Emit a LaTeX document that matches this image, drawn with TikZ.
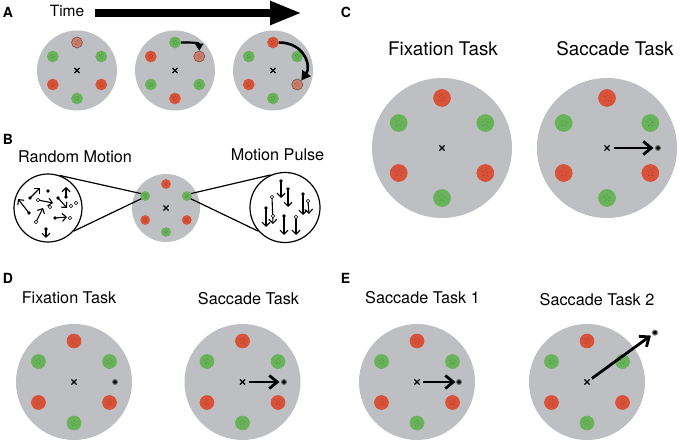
\documentclass[tikz,border=0pt]{standalone}
\usepackage{fontspec}
\setmainfont{TeX Gyre Heros}
\usetikzlibrary{arrows.meta,shapes.misc}

\definecolor{screengray}{RGB}{190,191,195}
\definecolor{dotgreen}{RGB}{104,178,90}
\definecolor{dotred}{RGB}{216,82,58}
\definecolor{dotlit}{RGB}{201,128,106}
\definecolor{litrim}{RGB}{120,80,70}
\definecolor{ringgray}{RGB}{115,115,115}

% one stimulus screen: name, x, y, size, ring radius, dot size, dot list
\newcommand{\stimdisplay}[7]{%
  \node[screen, minimum size=#4pt] (#1) at (#2,#3) {};
  \foreach \ang/\col/\rim [count=\i] in #7 {
    \node[stimdot, fill=\col, draw=\rim, minimum size=#6pt] (#1d\i) at ([shift={(\ang:#5)}]#1) {};
    \foreach \sx/\sy in {-2.5/-1.5, 0.5/-3, 2.5/-0.5, -0.5/1, 1.5/2.5, -2/2.5}
      \fill[speck] ([shift={({\sx*#6/17},{\sy*#6/17})}]#1d\i) circle [radius=0.45pt];
  }
  \node[fixcross] (#1x) at (#1) {};
}

\begin{document}
\begin{tikzpicture}[x=1pt, y=-1pt,
    screen/.style={circle, fill=screengray, inner sep=0pt},
    stimdot/.style={circle, inner sep=0pt, line width=0.6pt},
    speck/.style={black, opacity=0.3},
    fixcross/.style={cross out, draw, line width=1.1pt, minimum size=4pt, inner sep=0pt},
    target/.style={circle, fill=black, draw=ringgray, line width=1.1pt, minimum size=5pt, inner sep=0pt},
    saccade/.style={line width=2.8pt, -{Straight Barb[length=8pt,width=13pt]}},
    turn/.style={line width=2.2pt, -{Triangle[length=7pt,width=8pt]}},
    lens/.style={circle, draw, line width=1.2pt, fill=white, inner sep=0pt},
    mv/.style={line width=1.1pt, -{Straight Barb[length=4pt,width=8pt]}},
    panel/.style={font=\bfseries\fontsize{14}{16}\selectfont},
    title/.style={font=\fontsize{16.2}{18}\selectfont},
    bigtitle/.style={font=\fontsize{18.8}{21}\selectfont}]

    \useasboundingbox (0,0) rectangle (680,443);

    % dot arrangements (top, upper right, lower right, bottom, lower left, upper left)
    \def\dotsbase{-90/dotred/dotred, -30/dotgreen/dotgreen, 30/dotred/dotred, 90/dotgreen/dotgreen, 150/dotred/dotred, 210/dotgreen/dotgreen}
    \def\dotsfirst{-90/dotlit/litrim, -30/dotgreen/dotgreen, 30/dotred/dotred, 90/dotgreen/dotgreen, 150/dotred/dotred, 210/dotgreen/dotgreen}
    \def\dotssecond{-90/dotgreen/dotgreen, -30/dotlit/litrim, 30/dotgreen/dotgreen, 90/dotred/dotred, 150/dotgreen/dotgreen, 210/dotred/dotred}
    \def\dotsthird{-90/dotred/dotred, -30/dotgreen/dotgreen, 30/dotlit/litrim, 90/dotgreen/dotgreen, 150/dotred/dotred, 210/dotgreen/dotgreen}

    % Panel A : time course
    \node[panel] (labA) at (8,12) {A};
    \node[font=\fontsize{15.5}{18}\selectfont] (time) at (67,11) {Time};
    \coordinate (timebeg) at (95,13);
    \coordinate (timeend) at (302,13);
    \draw[line width=8pt, -{Triangle[length=32pt,width=22pt]}] (timebeg) -- (timeend);

    \stimdisplay{a1}{77}{70.5}{80}{28}{11}{\dotsfirst}
    \stimdisplay{a2}{175}{70.5}{80}{28}{11}{\dotssecond}
    \stimdisplay{a3}{273}{70.5}{80}{28}{11}{\dotsthird}

    \draw[turn] (a2d1.east) .. controls +(12,0) and +(0,-8) .. (a2d2.north);
    \draw[turn, line width=2.6pt, -{Triangle[length=9pt,width=10pt]}] (a3d1.east) .. controls +(26,0) and +(10,-14) .. (a3d3.north east);

    % Panel B : motion inside one dot
    \node[panel] (labB) at (8,139) {B};
    \node[title] (tRandom) at (75,156.7) {Random Motion};
    \node[title] (tPulse) at (277.5,154.5) {Motion Pulse};

    \stimdisplay{b}{166}{208}{68}{24}{9}{\dotsbase}

    \node[lens, minimum size=68pt] (lensL) at (48,208) {};
    \node[lens, minimum size=70pt] (lensR) at (285,207.5) {};
    \draw[line width=1.2pt] (lensL.70) -- (bd6.150);
    \draw[line width=1.2pt] (lensL.-42) -- (bd6.215);
    \draw[line width=1.2pt] (lensR.114) -- (bd2.30);
    \draw[line width=1.2pt] (lensR.-138) -- (bd2.-35);

    % random motion
    \draw[mv] (30,198) -- (40,188);
    \draw[mv] (29,213) -- (18,199);
    \draw[mv] (38,200) -- (53,203);
    \draw[mv] (58,198) -- (67,208);
    \draw[mv] (66,197) -- (66,187);
    \draw[mv] (36,222) -- (43,208);
    \draw[mv] (55,218) -- (67,217);
    \draw[mv] (46,229) -- (46,238);
    \foreach \p in {(30,198),(48,191),(29,213),(58,198),(66,197),(55,218),(46,229)}
      \fill \p circle [radius=1.8pt];
    \foreach \p in {(38,200),(50,207),(76,203),(71,206),(36,222),(70,218)}
      \draw[fill=white, line width=0.5pt] \p circle [radius=1.8pt];

    % coherent pulse
    \draw[mv] (281,181) -- (281,198);
    \draw[mv] (288,189) -- (288,207);
    \draw[mv] (272,197) -- (273,224);
    \draw[mv] (266,208) -- (266,227);
    \draw[mv] (284,216) -- (284,235);
    \draw[mv] (296,217) -- (296,235);
    \draw[mv] (303,194) -- (303,215);
    \draw[mv] (308,201) -- (309,214);
    \foreach \p in {(281,181),(288,189),(266,208),(284,216),(303,194)}
      \fill \p circle [radius=1.8pt];
    \foreach \p in {(272,197),(273,216),(296,217),(308,201)}
      \draw[fill=white, line width=0.5pt] \p circle [radius=1.8pt];

    % Panel C
    \node[panel] (labC) at (346,12) {C};
    \node[bigtitle] (tFixC) at (443,48.3) {Fixation Task};
    \node[bigtitle] (tSacC) at (615,48.3) {Saccade Task};

    \stimdisplay{c1}{442}{148}{140}{50}{17}{\dotsbase}
    \stimdisplay{c2}{607}{148}{140}{50}{17}{\dotsbase}
    \node[target] (c2t) at ([shift={(0:51)}]c2) {};
    \draw[saccade, shorten <=7pt, shorten >=4.5pt] (c2x.center) -- (c2t.center);

    % Panel D
    \node[panel] (labD) at (8,278) {D};
    \node[title] (tFixD) at (69,297.5) {Fixation Task};
    \node[title] (tSacD) at (248.5,298.5) {Saccade Task};

    \stimdisplay{d1}{74}{382}{116}{41}{14}{\dotsbase}
    \stimdisplay{d2}{242.5}{382}{116}{41}{14}{\dotsbase}
    \node[target] (d1t) at ([shift={(0:41)}]d1) {};
    \node[target] (d2t) at ([shift={(0:41.5)}]d2) {};
    \draw[saccade, shorten <=6pt, shorten >=4.5pt] (d2x.center) -- (d2t.center);

    % Panel E
    \node[panel] (labE) at (345.5,278) {E};
    \node[title] (tSacE1) at (422.5,298) {Saccade Task 1};
    \node[title] (tSacE2) at (597,299.5) {Saccade Task 2};

    \stimdisplay{e1}{417}{382}{116}{41}{14}{\dotsbase}
    \stimdisplay{e2}{587}{382}{116}{41}{14}{\dotsbase}
    \node[target] (e1t) at ([shift={(0:42)}]e1) {};
    \node[target] (e2t) at ([shift={(-36:84)}]e2) {};
    \draw[saccade, shorten <=6pt, shorten >=3.5pt] (e1x.center) -- (e1t.center);
    \draw[saccade, shorten <=6pt, shorten >=5pt] (e2x.center) -- (e2t.center);

\end{tikzpicture}
\end{document}
